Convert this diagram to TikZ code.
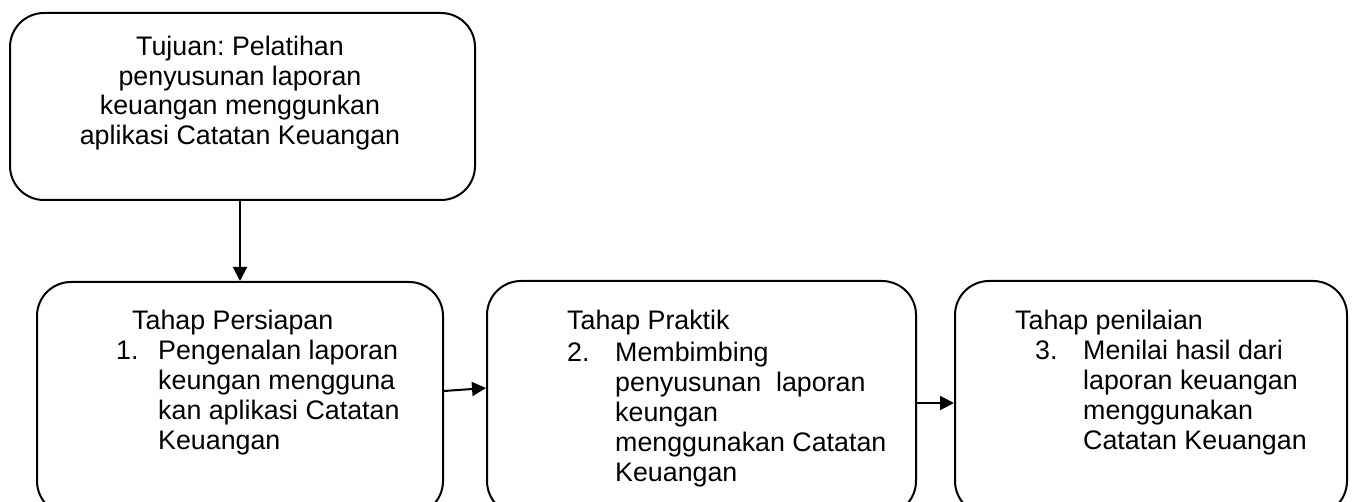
\documentclass[tikz,border=0pt]{standalone}
\usepackage{fontspec}
\setmainfont{Liberation Sans}
\usepackage{tikz}
\usetikzlibrary{arrows.meta}
\frenchspacing

\begin{document}
\begin{tikzpicture}[x=1pt, y=-1pt,
	kotak/.style={draw, line width=2pt, rounded corners=34pt, inner sep=0pt},
	teks/.style={inner sep=0pt, anchor=north west, align=left, font=\fontsize{26.8}{30}\selectfont},
	panah/.style={line width=2pt, -{Triangle[length=14pt, width=14pt]}}]
			%%%%% START %%%%%
			
			\fill[white] (0, 0) rectangle (1352, 502);
			\clip (0, 0) rectangle (1352, 502);
			
			\node[kotak, minimum width=465pt, minimum height=187pt] (tujuan) at (242.5, 106.5) {};
			\node[teks, anchor=north, align=center, font=\fontsize{26.8}{29.5}\selectfont] (tujuanteks) at (240, 35)
				{\strut Tujuan: Pelatihan\\ penyusunan laporan\\ keuangan menggunkan\\ aplikasi Catatan Keuangan};
			
			\node[kotak, minimum width=406pt, minimum height=233pt] (persiapan) at (240, 398.5) {};
			\node[kotak, minimum width=429pt, minimum height=234pt] (praktik) at (701.5, 398) {};
			\node[kotak, minimum width=392pt, minimum height=234pt] (penilaian) at (1151, 398) {};
			
			\node[teks] (judul1) at (132, 308) {\strut Tahap Persiapan};
			\node[teks] (no1) at (116, 338) {\strut 1.};
			\node[teks] (isi1) at (158, 338) {\strut Pengenalan laporan\\ keungan mengguna\\ kan aplikasi Catatan\\ Keuangan};
			
			\node[teks] (judul2) at (567, 308) {\strut Tahap Praktik};
			\node[teks] (no2) at (567, 340) {\strut 2.};
			\node[teks] (isi2) at (615, 340) {\strut Membimbing\\ penyusunan\ \ laporan\\ keungan\\ menggunakan Catatan\\ Keuangan};
			
			\node[teks] (judul3) at (1015, 308) {\strut Tahap penilaian};
			\node[teks] (no3) at (1035, 338) {\strut 3.};
			\node[teks] (isi3) at (1083, 338) {\strut Menilai hasil dari\\ laporan keuangan\\ menggunakan\\ Catatan Keuangan};
			
			\draw[panah] (tujuan.south -| persiapan.north) -- (persiapan.north);
			\draw[panah] ([yshift=7.5pt]persiapan.east) -- ([yshift=10pt]praktik.west);
			\draw[panah] ([yshift=-5pt]praktik.east) -- ([yshift=-5pt]penilaian.west);
			
			%%%%% END %%%%%
\end{tikzpicture}
\end{document}
